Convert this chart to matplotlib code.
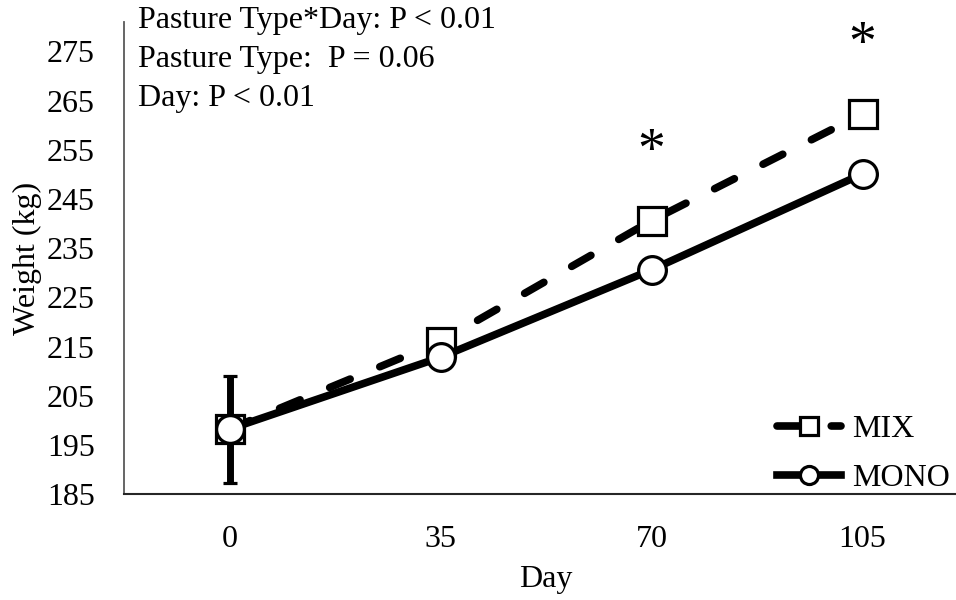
import matplotlib.pyplot as plt
from matplotlib.lines import Line2D

plt.rcParams['font.family'] = ['Liberation Serif', 'DejaVu Serif']

days = ['0', '35', '70', '105']
mix = [198.2, 216.0, 240.6, 262.3]
mono = [198.2, 212.8, 230.6, 250.1]
mono_err = [10.9, 0, 0, 0]
stars = [None, None, 254.3, 276.2]
y_ticks = [185, 195, 205, 215, 225, 235, 245, 255, 265, 275]
stats = ['Pasture Type*Day: P < 0.01', 'Pasture Type:  P = 0.06', 'Day: P < 0.01']

fig = plt.figure(figsize=(9.56, 6), dpi=100)
ax = fig.add_axes([124 / 956, 106 / 600, 844 / 956, 472 / 600])

x = list(range(len(days)))

# MIX dashed line with square markers
ax.plot(x, mix, color='black', lw=5.5, dashes=(2.9, 4.2), dash_capstyle='round',
        marker='s', ms=19.5, mfc='white', mec='black', mew=2.3, zorder=3)
# MONO solid line with circles, error bar at day 0
ax.errorbar(x, mono, yerr=[e if e > 0 else float('nan') for e in mono_err],
            color='black', lw=5.5, capsize=5, capthick=4, elinewidth=5,
            marker='o', ms=20, mfc='white', mec='black', mew=2.3, zorder=4)

for xi, s in zip(x, stars):
    if s is not None:
        ax.text(xi, s, '*', fontsize=40, ha='center', va='center')

ax.text(0.0166, 1.034, '\n'.join(stats), transform=ax.transAxes, fontsize=23,
        va='top', ha='left', linespacing=1.45)

ax.set_xlim(-0.5, 3.5)
ax.set_ylim(185, 281)
ax.set_xticks(x)
ax.set_xticklabels(days)
ax.set_yticks(y_ticks)
ax.tick_params(axis='both', length=0, labelsize=23)
ax.tick_params(axis='y', pad=21)
ax.tick_params(axis='x', pad=22)

ax.set_xlabel('Day', fontsize=23, labelpad=8)
ax.set_ylabel('Weight (kg)', fontsize=23)
ax.yaxis.set_label_coords(-0.097, 0.5)

for side in ['top', 'right']:
    ax.spines[side].set_visible(False)
ax.spines['left'].set_color('#595959')
ax.spines['left'].set_linewidth(1.3)
ax.spines['bottom'].set_color('#262626')
ax.spines['bottom'].set_linewidth(1.5)

handles = [
    Line2D([], [], color='black', lw=5.5, dashes=(2.9, 4.2), dash_capstyle='round',
           marker='s', ms=13, mfc='white', mec='black', mew=2.3),
    Line2D([], [], color='black', lw=5.5, marker='o', ms=13, mfc='white',
           mec='black', mew=2.3),
]
ax.legend(handles, ['MIX', 'MONO'], loc='lower right', bbox_to_anchor=(1.013, -0.059),
          frameon=False, fontsize=23, handlelength=2.0, handletextpad=0.35,
          labelspacing=0.61)

fig.savefig('out.png', dpi=100)
